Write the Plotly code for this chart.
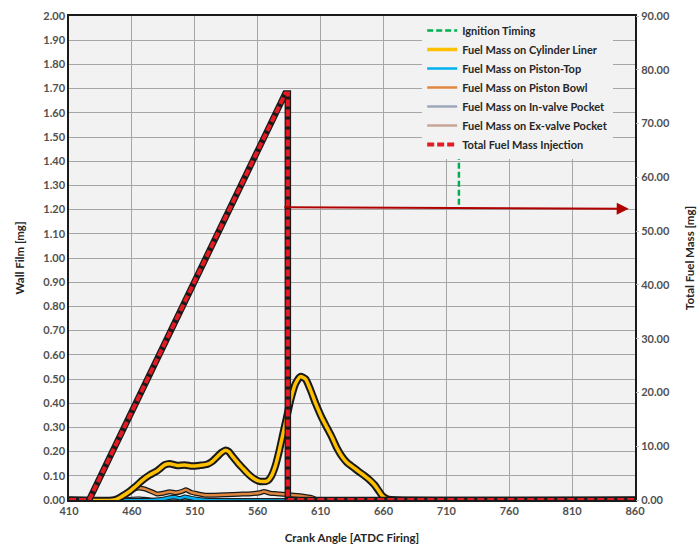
import plotly.graph_objects as go

# ---------------- data ----------------
crank_liner = [410, 446, 452, 458, 462, 468, 474, 480, 486, 490, 496, 502, 508, 514, 520, 524, 528, 531, 534,
               537, 540, 544, 548, 552, 556, 560, 564, 568, 571, 574, 577, 580, 583, 586, 590, 594, 598, 602,
               606, 611, 615, 619, 623, 627, 631, 636, 641, 645, 649, 653, 656, 659, 663, 670, 860]
liner = [0, 0, 0.015, 0.035, 0.052, 0.08, 0.103, 0.12, 0.145, 0.15, 0.143, 0.145, 0.14, 0.143, 0.148, 0.16,
         0.18, 0.195, 0.205, 0.2, 0.18, 0.155, 0.132, 0.11, 0.092, 0.08, 0.076, 0.08, 0.1, 0.14, 0.2, 0.27,
         0.34, 0.41, 0.48, 0.51, 0.5, 0.455, 0.4, 0.34, 0.3, 0.26, 0.215, 0.18, 0.155, 0.135, 0.115, 0.1,
         0.083, 0.062, 0.04, 0.018, 0.004, 0, 0]

crank_top = [410, 478, 485, 490, 494, 498, 502, 506, 511, 518, 860]
piston_top = [0, 0, 0.004, 0.01, 0.012, 0.007, 0.013, 0.009, 0.004, 0, 0]

crank_bowl = [410, 446, 450, 455, 460, 465, 470, 475, 480, 485, 490, 495, 500, 503, 507, 512, 518, 525,
              535, 545, 555, 562, 565, 570, 575, 585, 595, 603, 608, 860]
piston_bowl = [0, 0, 0.01, 0.028, 0.042, 0.05, 0.046, 0.036, 0.025, 0.028, 0.034, 0.03, 0.036, 0.042, 0.032,
               0.026, 0.02, 0.02, 0.022, 0.024, 0.026, 0.03, 0.035, 0.028, 0.026, 0.022, 0.017, 0.01, 0, 0]

crank_inv = [410, 452, 460, 466, 472, 860]
in_valve = [0, 0, 0.004, 0.005, 0, 0]

crank_exv = [410, 455, 462, 470, 478, 860]
ex_valve = [0, 0, 0.003, 0.004, 0, 0]

crank_total = [410, 426, 582, 584, 584, 860]
total_fuel = [0, 0, 75.6, 75.6, 0, 0]

ignition_crank = [720, 720]
ignition_y = [1.22, 2.0]

# arrow (pointing to secondary axis)
ARROW_TAIL = (580, 1.21)
ARROW_HEAD = (855, 1.203)

FONT = "Lato"
TXT = "#505050"

fig = go.Figure()

def outlined(x, y, color, name, width, owidth, rank, yaxis="y", dash=None, shape="spline"):
    fig.add_trace(go.Scatter(x=x, y=y, mode="lines", yaxis=yaxis, showlegend=False, hoverinfo="skip",
                             line=dict(color="#1a1a1a", width=owidth, shape=shape, smoothing=0.6)))
    fig.add_trace(go.Scatter(x=x, y=y, mode="lines", yaxis=yaxis, name=name, legendrank=rank,
                             line=dict(color=color, width=width, dash=dash, shape=shape, smoothing=0.6)))

fig.add_trace(go.Scatter(x=ignition_crank, y=ignition_y, mode="lines", name="Ignition Timing", legendrank=1,
                         line=dict(color="#00B050", width=2.5, dash="6px,3px")))
outlined(crank_exv, ex_valve, "#C9A596", "Fuel Mass on Ex-valve Pocket", 2.5, 4.5, 6)
outlined(crank_inv, in_valve, "#9EA7BA", "Fuel Mass on In-valve Pocket", 2.5, 4.5, 5)
outlined(crank_top, piston_top, "#00B0F0", "Fuel Mass on Piston-Top", 2.5, 4.5, 3)
outlined(crank_bowl, piston_bowl, "#E0873F", "Fuel Mass on Piston Bowl", 2.5, 5, 4)
outlined(crank_liner, liner, "#FFC000", "Fuel Mass on Cylinder Liner", 3.5, 7.5, 2)
outlined(crank_total, total_fuel, "#E31B23", "Total Fuel Mass Injection", 4, 6.5, 7, yaxis="y2",
         dash="7px,3px", shape="linear")

fig.add_annotation(x=ARROW_HEAD[0], y=ARROW_HEAD[1], ax=ARROW_TAIL[0], ay=ARROW_TAIL[1],
                   xref="x", yref="y", axref="x", ayref="y", text="", showarrow=True,
                   arrowhead=2, arrowsize=1.2, arrowwidth=2, arrowcolor="#B00000")

tickfont = dict(family=FONT, size=11, color=TXT, weight="bold")
titlefont = dict(family=FONT, size=11.5, color="#262626", weight="bold")

fig.update_layout(
    width=697, height=551,
    margin=dict(l=69, r=62, t=16, b=51),
    paper_bgcolor="white", plot_bgcolor="#F2F2F2",
    font=dict(family=FONT),
    xaxis=dict(range=[410, 860], tick0=410, dtick=50, showgrid=True, gridcolor="#A6A6A6", gridwidth=1,
               showline=True, linecolor="#1a1a1a", linewidth=1.5, mirror=True, zeroline=False, automargin=False,
               tickfont=tickfont, ticks="", title=dict(text="Crank Angle [ATDC Firing]", font=titlefont, standoff=18)),
    yaxis=dict(range=[0, 2.0], dtick=0.1, tickformat=".2f", showgrid=True, gridcolor="#A6A6A6", gridwidth=1,
               showline=True, linecolor="#1a1a1a", linewidth=1.5, mirror=True, zeroline=False, automargin=False,
               tickfont=tickfont, ticks="", title=dict(text="Wall Film [mg]", font=titlefont, standoff=16)),
    yaxis2=dict(range=[0, 90], dtick=10, tickformat=".2f", overlaying="y", side="right", showgrid=False,
                zeroline=False, automargin=False, tickfont=tickfont, ticks="outside", ticklen=3, tickcolor="#BFBFBF",
                title=dict(text="Total Fuel Mass [mg]", font=titlefont, standoff=16)),
    legend=dict(x=0.624, y=1.0, xanchor="left", yanchor="top", bgcolor="#F2F2F2", borderwidth=0,
                font=dict(family=FONT, size=11, color="#262626", weight="bold"), tracegroupgap=0,
                itemwidth=30),
    showlegend=True,
)

fig.write_html("out.html")
